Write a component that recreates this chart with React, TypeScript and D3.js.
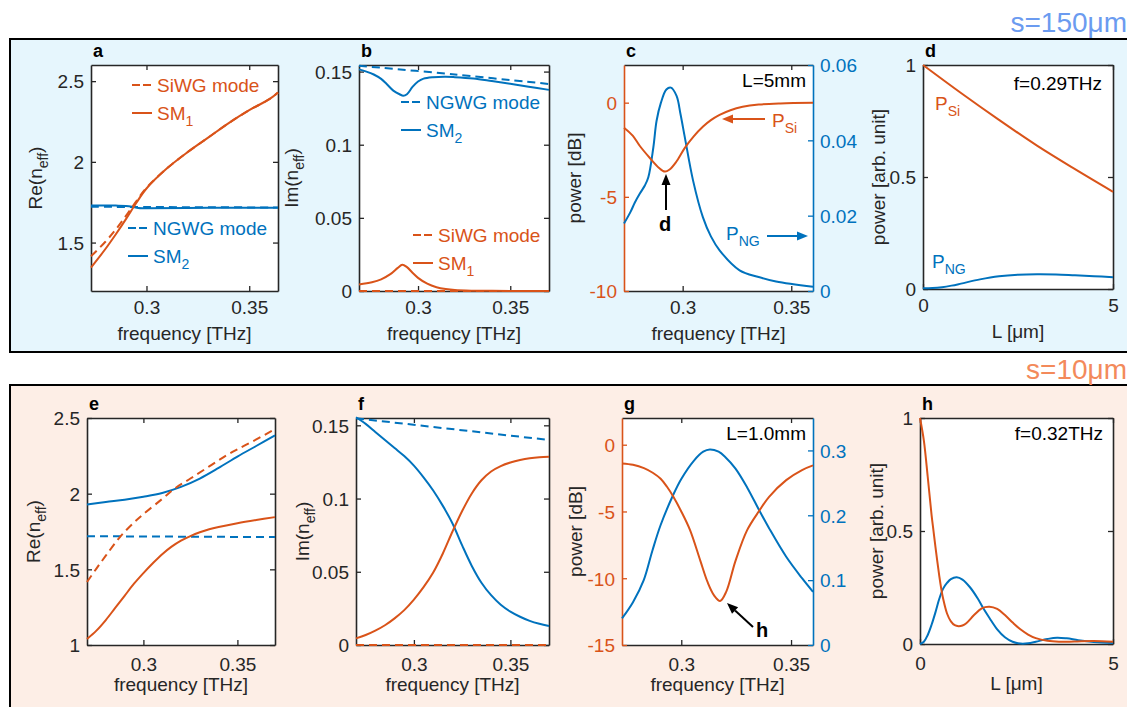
import React, { useEffect, useRef } from 'react';
import * as d3 from 'd3';

const ORANGE = '#D95319';
const BLUE = '#0072BD';
const INK = '#262626';
const FONT = "'Liberation Sans', Arial, Helvetica, sans-serif";

// ---- a: s=150um, Re(n_eff) ----
const aSiwgF = [0.273, 0.28, 0.285, 0.29, 0.295, 0.3, 0.31, 0.32, 0.33, 0.34, 0.35, 0.36, 0.364];
const aSiwg = [1.415, 1.505, 1.58, 1.665, 1.755, 1.84, 1.96, 2.06, 2.15, 2.24, 2.32, 2.39, 2.43];
const aSm1F = [0.273, 0.28, 0.285, 0.29, 0.295, 0.3, 0.31, 0.32, 0.33, 0.34, 0.35, 0.36, 0.364];
const aSm1 = [1.345, 1.46, 1.55, 1.645, 1.745, 1.835, 1.96, 2.06, 2.15, 2.24, 2.32, 2.39, 2.43];
const aNgwgF = [0.273, 0.3, 0.33, 0.364];
const aNgwg = [1.722, 1.72, 1.719, 1.717];
const aSm2F = [0.273, 0.28, 0.285, 0.29, 0.293, 0.296, 0.3, 0.33, 0.364];
const aSm2 = [1.73, 1.73, 1.729, 1.727, 1.722, 1.714, 1.713, 1.715, 1.716];

// ---- b: s=150um, Im(n_eff) ----
const bNgwgF = [0.268, 0.32, 0.371];
const bNgwg = [0.154, 0.148, 0.1415];
const bSm2F = [0.268, 0.272, 0.276, 0.28, 0.283, 0.2866, 0.29, 0.292, 0.294, 0.297, 0.3, 0.303, 0.308, 0.315, 0.32, 0.33, 0.34, 0.35, 0.36, 0.371];
const bSm2 = [0.1515, 0.15, 0.148, 0.145, 0.1415, 0.137, 0.1345, 0.1335, 0.1345, 0.1395, 0.1432, 0.1452, 0.1462, 0.1465, 0.1462, 0.1452, 0.1435, 0.1417, 0.1397, 0.1375];
const bSm1F = [0.268, 0.275, 0.28, 0.285, 0.289, 0.2915, 0.294, 0.297, 0.3, 0.305, 0.31, 0.315, 0.32, 0.33, 0.34, 0.371];
const bSm1 = [0.0045, 0.006, 0.008, 0.0115, 0.0158, 0.018, 0.0163, 0.0125, 0.009, 0.005, 0.0026, 0.0013, 0.0006, 0.0002, 0.0001, 0];
const bSiwgF = [0.268, 0.371];
const bSiwg = [0, 0];

// ---- c: s=150um, L=5mm ----
const cPsiF = [0.273, 0.277, 0.2803, 0.285, 0.289, 0.2918, 0.294, 0.297, 0.301, 0.305, 0.3094, 0.313, 0.317, 0.322, 0.3276, 0.335, 0.345, 0.36];
const cPsi = [-1.33, -1.75, -2.3, -2.95, -3.45, -3.66, -3.55, -3.15, -2.4, -1.8, -1.27, -0.93, -0.65, -0.4, -0.22, -0.1, -0.04, -0.01];
const cPngF = [0.273, 0.276, 0.278, 0.2803, 0.2826, 0.2842, 0.2865, 0.288, 0.29, 0.2925, 0.2946, 0.2972, 0.299, 0.301, 0.3048, 0.3093, 0.313, 0.317, 0.3262, 0.335, 0.343, 0.36];
const cPng = [0.0179, 0.021, 0.0235, 0.0259, 0.028, 0.0302, 0.0381, 0.0452, 0.05, 0.0535, 0.054, 0.0518, 0.047, 0.0408, 0.0293, 0.0196, 0.0145, 0.0108, 0.0055, 0.0037, 0.0025, 0.0011];

// ---- d: s=150um, f=0.29THz ----
const dPsiL = [0, 1, 2, 3, 4, 5];
const dPsi = [1.0, 0.875, 0.755, 0.64, 0.535, 0.434];
const dPngL = [0, 0.25, 0.5, 0.75, 1, 1.5, 2, 2.5, 3, 3.5, 4, 4.5, 5];
const dPng = [0.003, 0.004, 0.008, 0.015, 0.024, 0.043, 0.057, 0.064, 0.066, 0.065, 0.061, 0.057, 0.053];

// ---- e: s=10um, Re(n_eff) ----
const eSm2F = [0.27, 0.28, 0.29, 0.3, 0.31, 0.32, 0.33, 0.34, 0.35, 0.36, 0.37];
const eSm2 = [1.928, 1.945, 1.96, 1.98, 2.005, 2.045, 2.1, 2.17, 2.245, 2.315, 2.385];
const eSiwgF = [0.27, 0.275, 0.28, 0.2876, 0.295, 0.3, 0.31, 0.3168, 0.325, 0.335, 0.345, 0.355, 0.37];
const eSiwg = [1.416, 1.505, 1.59, 1.715, 1.81, 1.865, 1.965, 2.035, 2.1, 2.18, 2.26, 2.325, 2.426];
const eNgwgF = [0.27, 0.37];
const eNgwg = [1.719, 1.713];
const eSm1F = [0.27, 0.275, 0.28, 0.285, 0.29, 0.295, 0.3, 0.305, 0.31, 0.315, 0.32, 0.325, 0.33, 0.335, 0.34, 0.35, 0.36, 0.37];
const eSm1 = [1.04, 1.095, 1.165, 1.245, 1.325, 1.405, 1.475, 1.54, 1.6, 1.65, 1.69, 1.72, 1.745, 1.765, 1.78, 1.805, 1.826, 1.845];

// ---- f: s=10um, Im(n_eff) ----
const fF = [0.27, 0.275, 0.28, 0.285, 0.29, 0.295, 0.3, 0.305, 0.31, 0.315, 0.32, 0.325, 0.33, 0.335, 0.34, 0.345, 0.35, 0.355, 0.36, 0.365, 0.37];
const fSm2 = [0.1555, 0.151, 0.1455, 0.14, 0.1345, 0.129, 0.1225, 0.1145, 0.1055, 0.095, 0.083, 0.068, 0.054, 0.0425, 0.034, 0.0275, 0.0228, 0.0193, 0.0165, 0.0145, 0.013];
const fSm1 = [0.0045, 0.0068, 0.0098, 0.0135, 0.0182, 0.0238, 0.031, 0.0395, 0.0495, 0.0625, 0.0775, 0.0915, 0.1035, 0.1125, 0.1185, 0.1222, 0.1246, 0.1263, 0.1275, 0.1282, 0.1285];
const fNgwgF = [0.27, 0.37];
const fNgwg = [0.1548, 0.14];
const fSiwgF = [0.27, 0.37];
const fSiwg = [0, 0];

// ---- g: s=10um, L=1.0mm ----
const gPsiF = [0.273, 0.278, 0.283, 0.287, 0.2906, 0.2935, 0.2964, 0.3, 0.304, 0.3087, 0.312, 0.315, 0.3177, 0.3205, 0.3247, 0.33, 0.3355, 0.34, 0.3478, 0.355, 0.36];
const gPsi = [-1.4, -1.5, -1.75, -2.1, -2.55, -3.15, -3.9, -5.0, -6.4, -8.7, -10.3, -11.3, -11.7, -11.0, -8.7, -6.4, -4.95, -3.9, -2.65, -1.9, -1.55];
const gPngF = [0.273, 0.278, 0.2829, 0.2868, 0.2906, 0.2964, 0.3, 0.3057, 0.31, 0.313, 0.317, 0.32, 0.3247, 0.33, 0.3355, 0.34, 0.3478, 0.355, 0.36];
const gPng = [0.041, 0.066, 0.1, 0.145, 0.185, 0.232, 0.256, 0.284, 0.298, 0.3015, 0.298, 0.29, 0.272, 0.243, 0.2077, 0.18, 0.136, 0.103, 0.082];

// ---- h: s=10um, f=0.32THz ----
const hPsiL = [0, 0.1, 0.2, 0.3, 0.35, 0.4, 0.5, 0.55, 0.6, 0.7, 0.8, 0.9, 1.0, 1.1, 1.2, 1.4, 1.6, 1.8, 2.0, 2.2, 2.4, 2.6, 2.8, 3.0, 3.3, 3.6, 4.0, 4.5, 5.0];
const hPsi = [1.0, 0.9, 0.74, 0.57, 0.5, 0.43, 0.3, 0.245, 0.2, 0.135, 0.1, 0.083, 0.079, 0.082, 0.092, 0.128, 0.158, 0.165, 0.155, 0.128, 0.095, 0.065, 0.042, 0.026, 0.014, 0.01, 0.011, 0.013, 0.01];
const hPngL = [0, 0.1, 0.2, 0.3, 0.4, 0.5, 0.6, 0.7, 0.8, 0.95, 1.1, 1.3, 1.5, 1.64, 1.8, 2.0, 2.2, 2.4, 2.6, 2.8, 3.0, 3.3, 3.55, 3.8, 4.1, 4.5, 5.0];
const hPng = [0, 0.01, 0.04, 0.085, 0.14, 0.2, 0.245, 0.27, 0.287, 0.295, 0.285, 0.25, 0.2, 0.158, 0.115, 0.065, 0.03, 0.01, 0.002, 0.003, 0.01, 0.022, 0.028, 0.025, 0.017, 0.009, 0.004];

const freqTicks = [0.3, 0.35];
const lTicks = [0, 5];
const reTicksA = [1.5, 2, 2.5];
const reTicksE = [1, 1.5, 2, 2.5];
const imTicks = [0, 0.05, 0.1, 0.15];
const dbTicksC = [-10, -5, 0];
const dbTicksG = [-15, -10, -5, 0];
const pngTicksC = [0, 0.02, 0.04, 0.06];
const pngTicksG = [0, 0.1, 0.2, 0.3];
const powTicks = [0, 0.5, 1];

type Part = [string, boolean?];
const RE: Part[] = [['Re(n'], ['eff', true], [')']];
const IM: Part[] = [['Im(n'], ['eff', true], [')']];
const FREQ: Part[] = [['frequency [THz]']];
const LUM: Part[] = [['L [μm]']];
const DB: Part[] = [['power [dB]']];
const ARB: Part[] = [['power [arb. unit]']];

const line = (f, v, color, dash = false, right = false) => ({ f, v, color, dash, right });

const panels = [
  { id: 'a', rect: [91, 65, 278, 291], x: [0.273, 0.364], y: [1.2, 2.6], xt: freqTicks, yt: reTicksA,
    xl: FREQ, yl: RE, ylx: 42, row: 0,
    series: [line(aSm2F, aSm2, BLUE), line(aNgwgF, aNgwg, BLUE, true), line(aSm1F, aSm1, ORANGE), line(aSiwgF, aSiwg, ORANGE, true)] },
  { id: 'b', rect: [359, 65, 549, 291], x: [0.268, 0.371], y: [0, 0.1545], xt: freqTicks, yt: imTicks,
    xl: FREQ, yl: IM, ylx: 298, row: 0,
    series: [line(bSm2F, bSm2, BLUE), line(bNgwgF, bNgwg, BLUE, true), line(bSm1F, bSm1, ORANGE), line(bSiwgF, bSiwg, ORANGE, true)] },
  { id: 'c', rect: [624, 65, 813, 291], x: [0.273, 0.36], y: [-10, 2], y2: [0, 0.06], xt: freqTicks, yt: dbTicksC, yt2: pngTicksC,
    xl: FREQ, yl: DB, ylx: 581, row: 0,
    series: [line(cPngF, cPng, BLUE, false, true), line(cPsiF, cPsi, ORANGE)] },
  { id: 'd', rect: [923, 65, 1113, 289], x: [0, 5], y: [0, 1], xt: lTicks, yt: powTicks,
    xl: LUM, yl: ARB, ylx: 885, row: 0,
    series: [line(dPngL, dPng, BLUE), line(dPsiL, dPsi, ORANGE)] },
  { id: 'e', rect: [87, 418, 275, 645], x: [0.27, 0.37], y: [1, 2.5], xt: freqTicks, yt: reTicksE,
    xl: FREQ, yl: RE, ylx: 40, row: 1,
    series: [line(eNgwgF, eNgwg, BLUE, true), line(eSm2F, eSm2, BLUE), line(eSm1F, eSm1, ORANGE), line(eSiwgF, eSiwg, ORANGE, true)] },
  { id: 'f', rect: [356, 418, 549, 645], x: [0.27, 0.37], y: [0, 0.155], xt: freqTicks, yt: imTicks,
    xl: FREQ, yl: IM, ylx: 309, row: 1,
    series: [line(fNgwgF, fNgwg, BLUE, true), line(fF, fSm2, BLUE), line(fF, fSm1, ORANGE), line(fSiwgF, fSiwg, ORANGE, true)] },
  { id: 'g', rect: [622, 418, 813, 645], x: [0.273, 0.36], y: [-15, 2], y2: [0, 0.35], xt: freqTicks, yt: dbTicksG, yt2: pngTicksG,
    xl: FREQ, yl: DB, ylx: 582, row: 1,
    series: [line(gPngF, gPng, BLUE, false, true), line(gPsiF, gPsi, ORANGE)] },
  { id: 'h', rect: [920, 418, 1113, 644], x: [0, 5], y: [0, 1], xt: lTicks, yt: powTicks,
    xl: LUM, yl: ARB, ylx: 883, row: 1,
    series: [line(hPngL, hPng, BLUE), line(hPsiL, hPsi, ORANGE)] },
];

// tick-label baseline and x-label baseline below each row's axis
const rowTick = [23, 26];
const rowLabel = [49, 46];

function rich(sel, parts: Part[], size: number) {
  let shifted = false;
  parts.forEach(([t, sub]) => {
    const sp = sel.append('tspan').attr('font-size', sub ? size * 0.74 : size).text(t);
    if (sub && !shifted) { sp.attr('dy', size * 0.3); shifted = true; }
    else if (!sub && shifted) { sp.attr('dy', -size * 0.3); shifted = false; }
  });
  return sel;
}

function arrow(g, x1, y1, x2, y2, color) {
  const a = Math.atan2(y2 - y1, x2 - x1);
  const len = 11, w = 4.5;
  const bx = x2 - len * Math.cos(a), by = y2 - len * Math.sin(a);
  g.append('line').attr('x1', x1).attr('y1', y1).attr('x2', bx).attr('y2', by)
    .attr('stroke', color).attr('stroke-width', 2);
  const px = -Math.sin(a) * w, py = Math.cos(a) * w;
  g.append('polygon')
    .attr('points', `${x2},${y2} ${bx + px},${by + py} ${bx - px},${by - py}`)
    .attr('fill', color);
}

function drawPanel(svg, p) {
  const [l, t, r, b] = p.rect;
  const x = d3.scaleLinear().domain(p.x).range([l, r]);
  const y = d3.scaleLinear().domain(p.y).range([b, t]);
  const y2 = p.y2 ? d3.scaleLinear().domain(p.y2).range([b, t]) : null;
  const fmt = (d) => String(d);
  const g = svg.append('g');

  g.append('rect').attr('x', l).attr('y', t).attr('width', r - l).attr('height', b - t).attr('fill', 'white');

  const styleAxis = (ax, color) => {
    ax.attr('color', color).attr('font-family', FONT).attr('font-size', 19);
    ax.select('.domain').attr('stroke-width', 1.6);
    ax.selectAll('.tick line').attr('stroke-width', 1.3);
    ax.selectAll('.tick text').attr('fill', color);
  };

  const xb = g.append('g').attr('transform', `translate(0,${b})`)
    .call(d3.axisBottom(x).tickValues(p.xt).tickSize(-5).tickSizeOuter(0).tickFormat(fmt));
  styleAxis(xb, INK);
  xb.selectAll('.tick text').attr('dy', null).attr('y', rowTick[p.row]);
  const xtop = g.append('g').attr('transform', `translate(0,${t})`)
    .call(d3.axisTop(x).tickValues(p.xt).tickSize(-5).tickSizeOuter(0).tickFormat(() => ''));
  styleAxis(xtop, INK);

  const leftColor = y2 ? ORANGE : INK;
  const yl = g.append('g').attr('transform', `translate(${l},0)`)
    .call(d3.axisLeft(y).tickValues(p.yt).tickSize(-5).tickSizeOuter(0).tickPadding(7).tickFormat(fmt));
  styleAxis(yl, leftColor);
  yl.selectAll('.tick text').attr('dy', '0.36em');

  const yr = g.append('g').attr('transform', `translate(${r},0)`);
  if (y2) {
    yr.call(d3.axisRight(y2).tickValues(p.yt2).tickSize(-5).tickSizeOuter(0).tickPadding(7).tickFormat(fmt));
    styleAxis(yr, BLUE);
    yr.selectAll('.tick text').attr('dy', '0.36em');
  } else {
    yr.call(d3.axisRight(y).tickValues(p.yt).tickSize(-5).tickSizeOuter(0).tickFormat(() => ''));
    styleAxis(yr, INK);
  }

  const clipId = 'clip-' + p.id;
  svg.append('clipPath').attr('id', clipId).append('rect')
    .attr('x', l - 2).attr('y', t - 2).attr('width', r - l + 4).attr('height', b - t + 4);

  p.series.forEach((s) => {
    const ys = s.right ? y2 : y;
    const gen = d3.line<number>().x((_, i) => x(s.f[i])).y((d) => ys(d)).curve(d3.curveCatmullRom.alpha(0.5));
    g.append('path').attr('d', gen(s.v)).attr('fill', 'none').attr('stroke', s.color)
      .attr('stroke-width', 2).attr('stroke-dasharray', s.dash ? '8,5' : null)
      .attr('clip-path', `url(#${clipId})`);
  });

  // axis titles and panel letter
  rich(g.append('text').attr('x', (l + r) / 2).attr('y', b + rowLabel[p.row]).attr('text-anchor', 'middle')
    .attr('font-family', FONT).attr('fill', INK), p.xl, 19);
  rich(g.append('text').attr('transform', `translate(${p.ylx},${(t + b) / 2}) rotate(-90)`).attr('text-anchor', 'middle')
    .attr('font-family', FONT).attr('fill', INK), p.yl, 19);
  g.append('text').attr('x', l + 2).attr('y', t - 8).attr('font-family', FONT).attr('font-weight', 'bold')
    .attr('font-size', 18).attr('fill', 'black').text(p.id);
}

function legend(svg, items) {
  items.forEach((it) => {
    svg.append('line').attr('x1', it.x).attr('x2', it.x + 20).attr('y1', it.y).attr('y2', it.y)
      .attr('stroke', it.color).attr('stroke-width', 2).attr('stroke-dasharray', it.dash ? '8,3' : null);
    rich(svg.append('text').attr('x', it.x + 25).attr('y', it.y + 7).attr('font-family', FONT).attr('fill', it.color), it.label, 19);
  });
}

const Figure = () => {
  const ref = useRef<SVGSVGElement>(null);

  useEffect(() => {
    const svg = d3.select(ref.current);
    svg.selectAll('*').remove();

    // section boxes
    svg.append('rect').attr('x', 10).attr('y', 39).attr('width', 1130).attr('height', 313)
      .attr('fill', '#E6F6FD').attr('stroke', 'black').attr('stroke-width', 2);
    svg.append('rect').attr('x', 10).attr('y', 385).attr('width', 1130).attr('height', 340)
      .attr('fill', '#FDEEE6').attr('stroke', 'black').attr('stroke-width', 2);
    svg.append('text').attr('x', 1127).attr('y', 32).attr('text-anchor', 'end').attr('font-family', FONT)
      .attr('font-size', 28).attr('fill', '#6B9BF0').text('s=150μm');
    svg.append('text').attr('x', 1127).attr('y', 379).attr('text-anchor', 'end').attr('font-family', FONT)
      .attr('font-size', 28).attr('fill', '#F38A5B').text('s=10μm');

    panels.forEach((p) => drawPanel(svg, p));

    legend(svg, [
      { x: 132, y: 85, color: ORANGE, dash: true, label: [['SiWG mode']] },
      { x: 132, y: 113, color: ORANGE, dash: false, label: [['SM'], ['1', true]] },
      { x: 128, y: 228, color: BLUE, dash: true, label: [['NGWG mode']] },
      { x: 128, y: 256, color: BLUE, dash: false, label: [['SM'], ['2', true]] },
      { x: 401, y: 102, color: BLUE, dash: true, label: [['NGWG mode']] },
      { x: 401, y: 130, color: BLUE, dash: false, label: [['SM'], ['2', true]] },
      { x: 413, y: 235, color: ORANGE, dash: true, label: [['SiWG mode']] },
      { x: 413, y: 263, color: ORANGE, dash: false, label: [['SM'], ['1', true]] },
    ]);

    const txt = (x, y, parts: Part[], color, anchor = 'start', weight = 'normal', size = 19) =>
      rich(svg.append('text').attr('x', x).attr('y', y).attr('text-anchor', anchor).attr('font-family', FONT)
        .attr('font-weight', weight).attr('fill', color), parts, size);

    // c annotations
    txt(806, 87, [['L=5mm']], 'black', 'end');
    arrow(svg, 765, 119, 722, 119, ORANGE);
    txt(772, 127, [['P'], ['Si', true]], ORANGE);
    arrow(svg, 666, 210, 666, 174, 'black');
    txt(665, 231, [['d']], 'black', 'middle', 'bold', 20);
    txt(726, 240, [['P'], ['NG', true]], BLUE);
    arrow(svg, 767, 236, 808, 236, BLUE);
    // d annotations
    txt(1102, 90, [['f=0.29THz']], 'black', 'end');
    txt(935, 110, [['P'], ['Si', true]], ORANGE);
    txt(932, 268, [['P'], ['NG', true]], BLUE);
    // g annotations
    txt(806, 440, [['L=1.0mm']], 'black', 'end');
    arrow(svg, 753, 627, 727, 603, 'black');
    txt(762, 637, [['h']], 'black', 'middle', 'bold', 20);
    // h annotations
    txt(1103, 440, [['f=0.32THz']], 'black', 'end');
  }, []);

  return <svg ref={ref} width={1127} height={707} style={{ position: 'absolute', left: 0, top: 0 }} />;
};

export default function App() {
  return <Figure />;
}
